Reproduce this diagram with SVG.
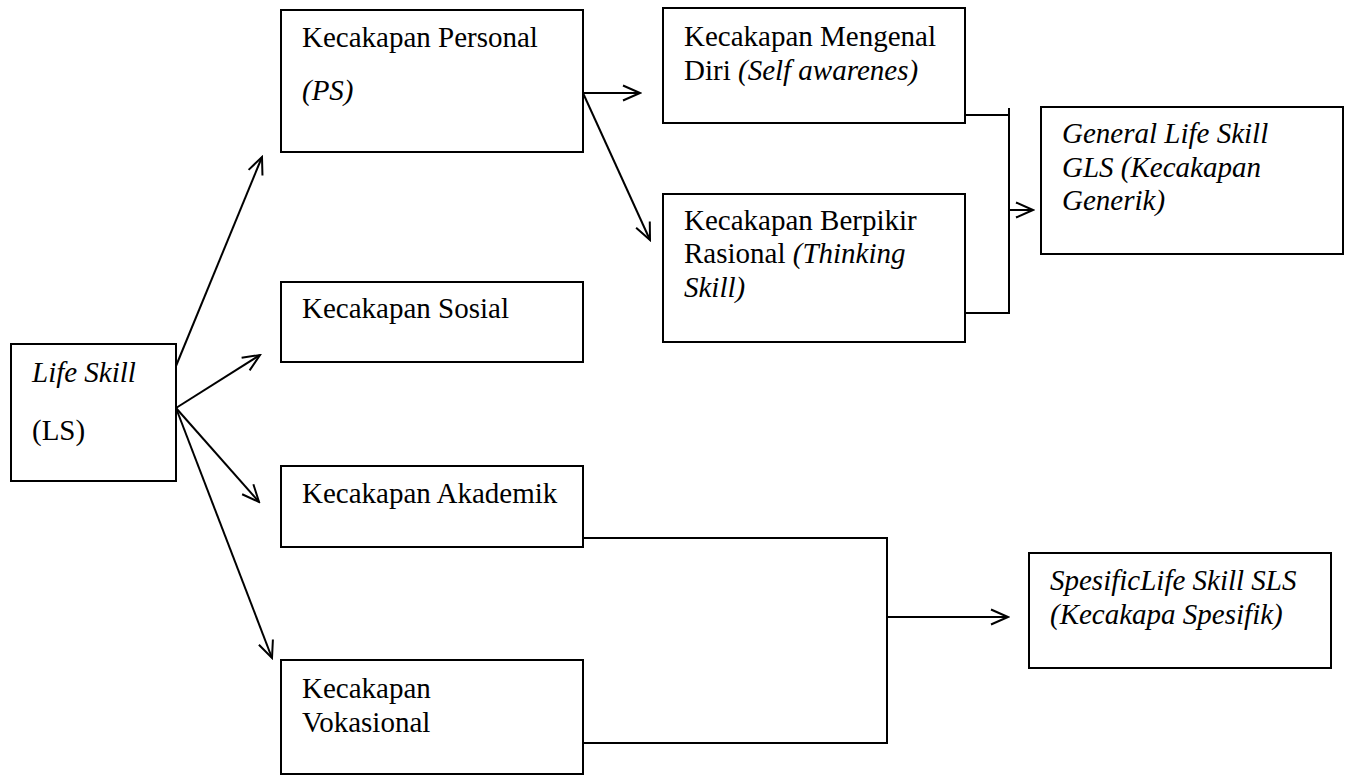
<svg xmlns="http://www.w3.org/2000/svg" width="1349" height="775" viewBox="0 0 1349 775">
<style>
.box{fill:#fff;stroke:#000;stroke-width:2}
.t{font-size:29px;fill:#000}
.i{font-style:italic}
.c{fill:none;stroke:#000;stroke-width:2}
</style>
<defs>
<marker id="arr" viewBox="-19 -10 21 20" refX="0" refY="0" markerWidth="21" markerHeight="20" markerUnits="userSpaceOnUse" orient="auto">
<path d="M-17,-7.5 L0,0 L-17,7.5" fill="none" stroke="#000" stroke-width="2"/>
</marker>
</defs>
<rect width="1349" height="775" fill="#fff"/>
<g id="connectors">
<line class="c" x1="176" y1="366" x2="262" y2="157" marker-end="url(#arr)"/>
<line class="c" x1="176" y1="408" x2="260" y2="355" marker-end="url(#arr)"/>
<line class="c" x1="176" y1="408" x2="259" y2="502" marker-end="url(#arr)"/>
<line class="c" x1="176" y1="408" x2="272" y2="658" marker-end="url(#arr)"/>
<line class="c" x1="583" y1="93" x2="640" y2="93" marker-end="url(#arr)"/>
<line class="c" x1="583" y1="93" x2="650" y2="240" marker-end="url(#arr)"/>
<polyline class="c" points="965,115 1009,115"/>
<polyline class="c" points="1009,108 1009,313 965,313"/>
<line class="c" x1="1009" y1="210" x2="1033" y2="210" marker-end="url(#arr)"/>
<polyline class="c" points="583,538 887,538 887,743 583,743"/>
<line class="c" x1="887" y1="617" x2="1008" y2="617" marker-end="url(#arr)"/>
</g>
<g font-family="Liberation Serif, Times New Roman, Times, serif">
<g id="node-ls">
<rect class="box" x="11" y="344" width="165" height="137"/>
<text class="t i" x="32" y="382">Life Skill</text>
<text class="t" x="32" y="440">(LS)</text>
</g>
<g id="node-personal">
<rect class="box" x="281" y="10" width="302" height="142"/>
<text class="t" x="302" y="47">Kecakapan Personal</text>
<text class="t i" x="302" y="100">(PS)</text>
</g>
<g id="node-sosial">
<rect class="box" x="281" y="282" width="302" height="80"/>
<text class="t" x="302" y="318">Kecakapan Sosial</text>
</g>
<g id="node-akademik">
<rect class="box" x="281" y="466" width="302" height="81"/>
<text class="t" x="302" y="503">Kecakapan Akademik</text>
</g>
<g id="node-vokasional">
<rect class="box" x="281" y="660" width="302" height="114"/>
<text class="t" x="302" y="698">Kecakapan</text>
<text class="t" x="302" y="732">Vokasional</text>
</g>
<g id="node-mengenal">
<rect class="box" x="663" y="8" width="302" height="115"/>
<text class="t" x="684" y="46">Kecakapan Mengenal</text>
<text class="t" x="684" y="80">Diri <tspan class="i">(Self awarenes)</tspan></text>
</g>
<g id="node-berpikir">
<rect class="box" x="663" y="194" width="302" height="148"/>
<text class="t" x="684" y="230">Kecakapan Berpikir</text>
<text class="t" x="684" y="263">Rasional <tspan class="i">(Thinking</tspan></text>
<text class="t i" x="684" y="297">Skill)</text>
</g>
<g id="node-gls">
<rect class="box" x="1041" y="107" width="302" height="147"/>
<text class="t i" x="1062" y="143">General Life Skill</text>
<text class="t i" x="1062" y="177">GLS (Kecakapan</text>
<text class="t i" x="1062" y="210">Generik)</text>
</g>
<g id="node-sls">
<rect class="box" x="1029" y="553" width="302" height="115"/>
<text class="t i" x="1050" y="590">SpesificLife Skill SLS</text>
<text class="t i" x="1050" y="624">(Kecakapa Spesifik)</text>
</g>
</g>
</svg>
